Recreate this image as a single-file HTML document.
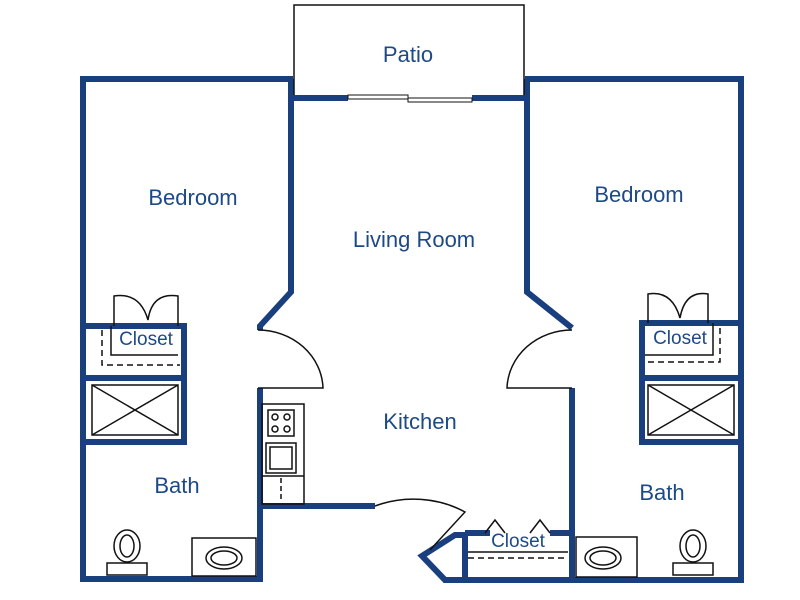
<!DOCTYPE html>
<html><head><style>
html,body{margin:0;padding:0;background:#fff;}
svg{display:block;}
text{font-family:"Liberation Sans",sans-serif;fill:#1d4a86;text-anchor:middle;}
</style></head><body>
<svg width="800" height="600" viewBox="0 0 800 600" xmlns="http://www.w3.org/2000/svg">
<g fill="none" stroke="#1a3f7f" stroke-width="6" stroke-linejoin="miter">
  <polyline points="293,79 83,79 83,579 260,579 260,388"/>
  <polyline points="291,79 291,292 260,326 260,330"/>
  <line x1="260" y1="506" x2="375" y2="506"/>
  <line x1="291" y1="98" x2="348" y2="98"/>
  <line x1="472" y1="98" x2="528" y2="98"/>
  <polyline points="527,79 527,292 572,328"/>
  <polyline points="525,79 741,79 741,580 445,580 422,556 455,535 465,535"/>
  <line x1="572" y1="388" x2="572" y2="580"/>
  <polyline points="83,326 184,326 184,442 83,442"/>
  <line x1="83" y1="378" x2="184" y2="378"/>
  <polyline points="741,323 642,323 642,442 741,442"/>
  <line x1="642" y1="378" x2="741" y2="378"/>
  <line x1="465" y1="535" x2="465" y2="580"/>
  <line x1="465" y1="533" x2="490" y2="533"/>
  <line x1="550" y1="533" x2="572" y2="533"/>
</g>
<g fill="none" stroke="#111" stroke-width="1.5">
  <polyline points="294,95 294,5 524,5 524,95"/>
  <rect x="348" y="95" width="60" height="4" stroke-width="1"/>
  <rect x="408" y="98" width="64" height="4" stroke-width="1"/>
  <path d="M258,330 A65,60 0 0 1 323,388 L258,388"/>
  <path d="M572,330 A65,60 0 0 0 507,388 L572,388"/>
  <path d="M375,506 A95,80 0 0 1 465,512 L430,550"/>
  <path d="M114,326 L114,296 Q140,292 148,320 Q152,292 178,296 L178,326"/>
  <path d="M111,326 L111,355 L178,355"/>
  <path d="M102,330 L102,365 L180,365" stroke-dasharray="6,4"/>
  <rect x="92" y="385" width="86" height="50"/>
  <line x1="92" y1="385" x2="178" y2="435"/><line x1="178" y1="385" x2="92" y2="435"/>
  <path d="M648,323 L648,294 Q672,290 680,318 Q685,290 708,294 L708,323"/>
  <path d="M713,323 L713,355 L645,355"/>
  <path d="M720,328 L720,362 L645,362" stroke-dasharray="6,4"/>
  <rect x="648" y="385" width="86" height="50"/>
  <line x1="648" y1="385" x2="734" y2="435"/><line x1="734" y1="385" x2="648" y2="435"/>
  <path d="M485,533 L495,520 L505,533 M530,533 L540,520 L550,533"/>
  <line x1="468" y1="552" x2="568" y2="552"/>
  <line x1="468" y1="558" x2="568" y2="558" stroke-dasharray="6,4"/>
  <rect x="262" y="404" width="42" height="100"/>
  <line x1="262" y1="476" x2="304" y2="476"/>
  <rect x="268" y="410" width="26" height="26"/>
  <circle cx="275" cy="417" r="3"/><circle cx="287" cy="417" r="3"/>
  <circle cx="275" cy="429" r="3"/><circle cx="287" cy="429" r="3"/>
  <rect x="266" y="443" width="30" height="30"/><rect x="270" y="447" width="22" height="22"/>
  <line x1="281" y1="478" x2="281" y2="502" stroke-dasharray="5,3"/>
  <ellipse cx="127" cy="546" rx="13" ry="16"/><ellipse cx="127" cy="546" rx="7" ry="11"/>
  <rect x="107" y="563" width="40" height="12"/>
  <rect x="192" y="538" width="64" height="38"/>
  <ellipse cx="224" cy="558" rx="18" ry="11"/><ellipse cx="224" cy="558" rx="13" ry="7"/>
  <rect x="576" y="537" width="61" height="40"/>
  <ellipse cx="603" cy="558" rx="18" ry="11"/><ellipse cx="603" cy="558" rx="13" ry="7"/>
  <ellipse cx="693" cy="546" rx="13" ry="16"/><ellipse cx="693" cy="546" rx="7" ry="11"/>
  <rect x="673" y="563" width="40" height="12"/>
</g>
<g font-size="22">
  <text x="408" y="62">Patio</text>
  <text x="193" y="205">Bedroom</text>
  <text x="414" y="247">Living Room</text>
  <text x="639" y="202">Bedroom</text>
  <text x="420" y="429">Kitchen</text>
  <text x="177" y="493">Bath</text>
  <text x="662" y="500">Bath</text>
</g>
<g font-size="19">
  <text x="146" y="345">Closet</text>
  <text x="680" y="344">Closet</text>
  <text x="518" y="547">Closet</text>
</g>
</svg>
</body></html>
